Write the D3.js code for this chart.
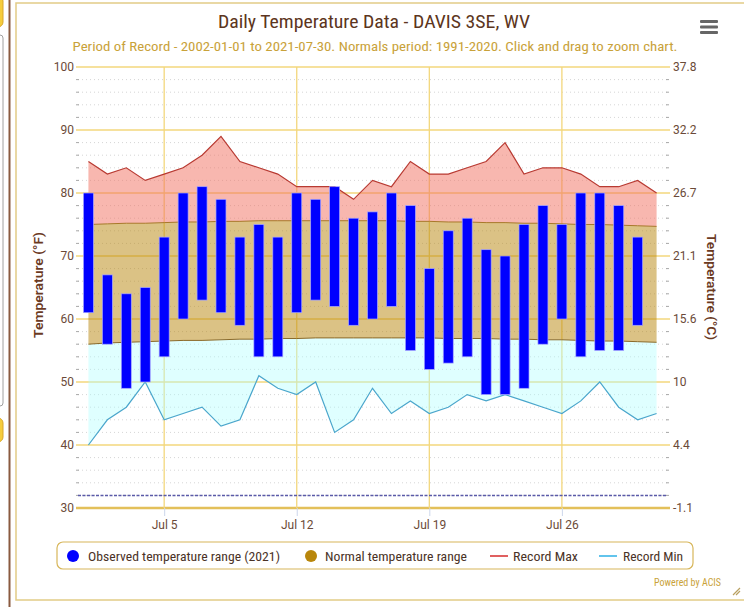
<!DOCTYPE html>
<html>
<head>
<meta charset="utf-8">
<script src="https://cdn.jsdelivr.net/npm/d3@7"></script>
<style>
	html, body { margin: 0; padding: 0; background: #ffffff; }
	svg { display: block; font-family: "Roboto Condensed", "Liberation Sans Narrow", Roboto, sans-serif; }
</style>
</head>
<body>
<script>

// days of July 2021 (categories)
var days = d3.range(1, 32).map(function (d) { return new Date(2021, 6, d); });

// observed range 2021 (Jul 1 - Jul 30), deg F
var obsHigh = [80, 67, 64, 65, 73, 80, 81, 79, 73, 75, 73, 80, 79, 81, 76, 77, 80, 78, 68, 74, 76, 71, 70, 75, 78, 75, 80, 80, 78, 73];
var obsLow  = [61, 56, 49, 50, 54, 60, 63, 61, 59, 54, 54, 61, 63, 62, 59, 60, 62, 55, 52, 53, 54, 48, 48, 49, 56, 60, 54, 55, 55, 59];

// normals 1991-2020 (Jul 1 - Jul 31)
var normHigh = [75.0, 75.1, 75.2, 75.2, 75.3, 75.4, 75.4, 75.5, 75.5, 75.6, 75.6, 75.6, 75.6, 75.6, 75.6, 75.6,
	75.6, 75.5, 75.5, 75.4, 75.4, 75.3, 75.3, 75.2, 75.2, 75.1, 75.0, 75.0, 74.9, 74.8, 74.7];
var normLow = [56.0, 56.2, 56.3, 56.4, 56.5, 56.6, 56.6, 56.7, 56.8, 56.8, 56.9, 56.9, 57.0, 57.0, 57.0, 57.0,
	57.0, 57.0, 57.0, 56.9, 56.9, 56.9, 56.8, 56.8, 56.7, 56.7, 56.6, 56.5, 56.5, 56.4, 56.3];

// period of record extremes
var recMax = [85, 83, 84, 82, 83, 84, 86, 89, 85, 84, 83, 81, 81, 81, 79, 82, 81, 85, 83, 83, 84, 85, 88, 83, 84, 84, 83, 81, 81, 82, 80];
var recMin = [40, 44, 46, 50, 44, 45, 46, 43, 44, 51, 49, 48, 50, 42, 44, 49, 45, 47, 45, 46, 48, 47, 48, 47, 46, 45, 47, 50, 46, 44, 45];

var yTicks = [30, 40, 50, 60, 70, 80, 90, 100];
var xTicks = [new Date(2021, 6, 5), new Date(2021, 6, 12), new Date(2021, 6, 19), new Date(2021, 6, 26)];
var freezing = 32;

var legendItems = ["Observed temperature range (2021)", "Normal temperature range", "Record Max", "Record Min"];

/*************************************************/

var width = 744, height = 607;
var pLeft = 78, pRight = 667, pTop = 67, pBottom = 508;
var brown = "#6b4a38", gold = "#c9a23a", grid = "#f3d77c";
var plain = "Roboto, \"Open Sans\", sans-serif";

var svg = d3.select("body").append("svg")
	.attr("width", width)
	.attr("height", height);

var DAY = 864e5;
var x = d3.scaleTime()
	.domain([new Date(days[0].getTime() - 0.55 * DAY), new Date(days[30].getTime() + 0.55 * DAY)])
	.range([pLeft, pRight]);
var y = d3.scaleLinear().domain([30, 100]).range([pBottom, pTop]);

// page bits on the left + chart frame
svg.append("rect").attr("x", -10).attr("y", -4).attr("width", 13).attr("height", 31).attr("rx", 5)
	.attr("fill", "#f6cd3c").attr("stroke", "#d9a72a");
svg.append("rect").attr("x", -10).attr("y", 35).attr("width", 13).attr("height", 371).attr("rx", 3)
	.attr("fill", "#fff").attr("stroke", "#a0a0a0");
svg.append("rect").attr("x", -10).attr("y", 418).attr("width", 13).attr("height", 24).attr("rx", 5)
	.attr("fill", "#f6cd3c").attr("stroke", "#d9a72a");
svg.append("line").attr("x1", 9.5).attr("x2", 9.5).attr("y1", 0).attr("y2", height)
	.attr("stroke", "#8a5a40").attr("stroke-width", 2);
svg.append("rect").attr("x", 16).attr("y", 3).attr("width", 740).attr("height", 597)
	.attr("fill", "#fff").attr("stroke", "#e2cc86").attr("stroke-width", 1.5);

// title + subtitle
svg.append("text").attr("x", 374).attr("y", 28).attr("text-anchor", "middle")
	.attr("font-size", 18).attr("fill", "#5c3520")
	.attr("textLength", 312).attr("lengthAdjust", "spacingAndGlyphs")
	.text("Daily Temperature Data - DAVIS 3SE, WV");
svg.append("text").attr("x", 375).attr("y", 51).attr("text-anchor", "middle")
	.attr("font-size", 12.5).attr("fill", gold)
	.attr("textLength", 605).attr("lengthAdjust", "spacingAndGlyphs")
	.text("Period of Record - 2002-01-01 to 2021-07-30. Normals period: 1991-2020. Click and drag to zoom chart.");

// menu icon
[20, 25.5, 31].forEach(function (yy) {
	svg.append("rect").attr("x", 700).attr("y", yy).attr("width", 18).attr("height", 3).attr("rx", 1)
		.attr("fill", "#666");
});

/*************************************************/
// grid
var minor = d3.range(30, 100, 2).filter(function (v) { return v % 10 !== 0; });
svg.append("g").selectAll("line").data(minor).enter().append("line")
	.attr("x1", pLeft).attr("x2", pRight)
	.attr("y1", function (d) { return y(d); }).attr("y2", function (d) { return y(d); })
	.attr("stroke", "#d6d6d6").attr("stroke-width", 1).attr("stroke-dasharray", "1,3");
// minor ticks at both sides
svg.append("g").selectAll("path").data(minor).enter().append("path")
	.attr("d", function (d) { return "M" + (pLeft - 2) + "," + y(d) + "h3M" + (pRight - 1) + "," + y(d) + "h3"; })
	.attr("stroke", "#a8a8a8").attr("stroke-width", 1);

svg.append("g").selectAll("line").data(yTicks).enter().append("line")
	.attr("x1", pLeft - 2).attr("x2", pRight + 3)
	.attr("y1", function (d) { return y(d); }).attr("y2", function (d) { return y(d); })
	.attr("stroke", function (d) { return d === 30 ? "#e3c05a" : grid; })
	.attr("stroke-width", function (d) { return d === 30 ? 2.5 : 1.3; });

svg.append("g").selectAll("line").data(xTicks).enter().append("line")
	.attr("x1", function (d) { return x(d); }).attr("x2", function (d) { return x(d); })
	.attr("y1", pTop).attr("y2", pBottom)
	.attr("stroke", grid).attr("stroke-width", 1.3);

/*************************************************/
// areas
var idx = d3.range(days.length);
function band(lo, hi) {
	return d3.area()
		.x(function (i) { return x(days[i]); })
		.y0(function (i) { return y(lo[i]); })
		.y1(function (i) { return y(hi[i]); })(idx);
}
svg.append("path").attr("d", band(normHigh, recMax)).attr("fill", "#f27060").attr("fill-opacity", 0.5);
svg.append("path").attr("d", band(normLow, normHigh)).attr("fill", "#b8860b").attr("fill-opacity", 0.5);
svg.append("path").attr("d", band(recMin, normLow)).attr("fill", "#b0ffff").attr("fill-opacity", 0.4);

function line(vals) {
	return d3.line()
		.x(function (i) { return x(days[i]); })
		.y(function (i) { return y(vals[i]); })(idx);
}
svg.append("path").attr("d", line(normHigh)).attr("fill", "none").attr("stroke", "#a8782a").attr("stroke-width", 1);
svg.append("path").attr("d", line(normLow)).attr("fill", "none").attr("stroke", "#8a6a2a").attr("stroke-width", 1);
svg.append("path").attr("d", line(recMax)).attr("fill", "none").attr("stroke", "#b83a32").attr("stroke-width", 1.2);
svg.append("path").attr("d", line(recMin)).attr("fill", "none").attr("stroke", "#4aa6cc").attr("stroke-width", 1.2);

// freezing line
svg.append("line").attr("x1", pLeft).attr("x2", pRight).attr("y1", y(freezing)).attr("y2", y(freezing))
	.attr("stroke", "#5a5aa8").attr("stroke-width", 1.5).attr("stroke-dasharray", "3,1.5");

// observed bars
svg.append("g").selectAll("rect").data(obsHigh).enter().append("rect")
	.attr("x", function (d, i) { return x(days[i]) - 5; })
	.attr("width", 10)
	.attr("y", function (d) { return y(d); })
	.attr("height", function (d, i) { return y(obsLow[i]) - y(d); })
	.attr("fill", "#0000ff")
	.attr("stroke", "#a8a8ff").attr("stroke-width", 0.7);

/*************************************************/
// axes
var yl = svg.append("g").attr("transform", "translate(" + pLeft + ",0)")
	.call(d3.axisLeft(y).tickValues(yTicks).tickSize(0).tickPadding(4));
var yr = svg.append("g").attr("transform", "translate(" + pRight + ",0)")
	.call(d3.axisRight(y).tickValues(yTicks).tickSize(0).tickPadding(6)
		.tickFormat(function (f) { return +((f - 32) * 5 / 9).toFixed(1); }));
var xa = svg.append("g").attr("transform", "translate(0," + pBottom + ")")
	.call(d3.axisBottom(x).tickValues(xTicks).tickSize(8).tickPadding(4).tickFormat(d3.timeFormat("%b %-d")));
[yl, yr, xa].forEach(function (g) {
	g.select(".domain").remove();
	g.selectAll("text").attr("fill", brown).attr("font-size", 12).attr("font-family", plain);
});
xa.selectAll("line").attr("stroke", "#ccd6eb");

svg.append("text").attr("transform", "translate(43,285) rotate(-90)").attr("text-anchor", "middle")
	.attr("font-size", 13).attr("font-weight", 600).attr("fill", "#6b3a1f").attr("font-family", plain)
	.attr("textLength", 106).attr("lengthAdjust", "spacingAndGlyphs")
	.text("Temperature (°F)");
svg.append("text").attr("transform", "translate(707,287) rotate(90)").attr("text-anchor", "middle")
	.attr("font-size", 13).attr("font-weight", 600).attr("fill", "#6b3a1f").attr("font-family", plain)
	.attr("textLength", 106).attr("lengthAdjust", "spacingAndGlyphs")
	.text("Temperature (°C)");

/*************************************************/
// legend
svg.append("rect").attr("x", 57).attr("y", 542).attr("width", 636).attr("height", 27).attr("rx", 6)
	.attr("fill", "#fff").attr("stroke", "#d7b65a").attr("stroke-width", 1.2);
var ly = 556;
svg.append("circle").attr("cx", 73).attr("cy", ly).attr("r", 6).attr("fill", "#0000ff");
svg.append("circle").attr("cx", 311).attr("cy", ly).attr("r", 6).attr("fill", "#b8860b");
svg.append("line").attr("x1", 490).attr("x2", 508).attr("y1", ly).attr("y2", ly).attr("stroke", "#e06060").attr("stroke-width", 2);
svg.append("line").attr("x1", 599).attr("x2", 617).attr("y1", ly).attr("y2", ly).attr("stroke", "#62c4ec").attr("stroke-width", 2);
var lx = [88, 325, 513, 623], lw = [192, 142, 65, 60];
legendItems.forEach(function (t, i) {
	svg.append("text").attr("x", lx[i]).attr("y", ly + 4.5)
		.attr("font-size", 12.5).attr("fill", "#4a3226")
		.attr("textLength", lw[i]).attr("lengthAdjust", "spacingAndGlyphs")
		.text(t);
});

svg.append("text").attr("x", 721).attr("y", 586).attr("text-anchor", "end")
	.attr("font-size", 10).attr("fill", gold).text("Powered by ACIS");

// resize grip
svg.append("path").attr("d", "M733,595 L740,588 M736,595 L740,591")
	.attr("stroke", "#b8a060").attr("stroke-width", 1.2);

</script>
</body>
</html>
